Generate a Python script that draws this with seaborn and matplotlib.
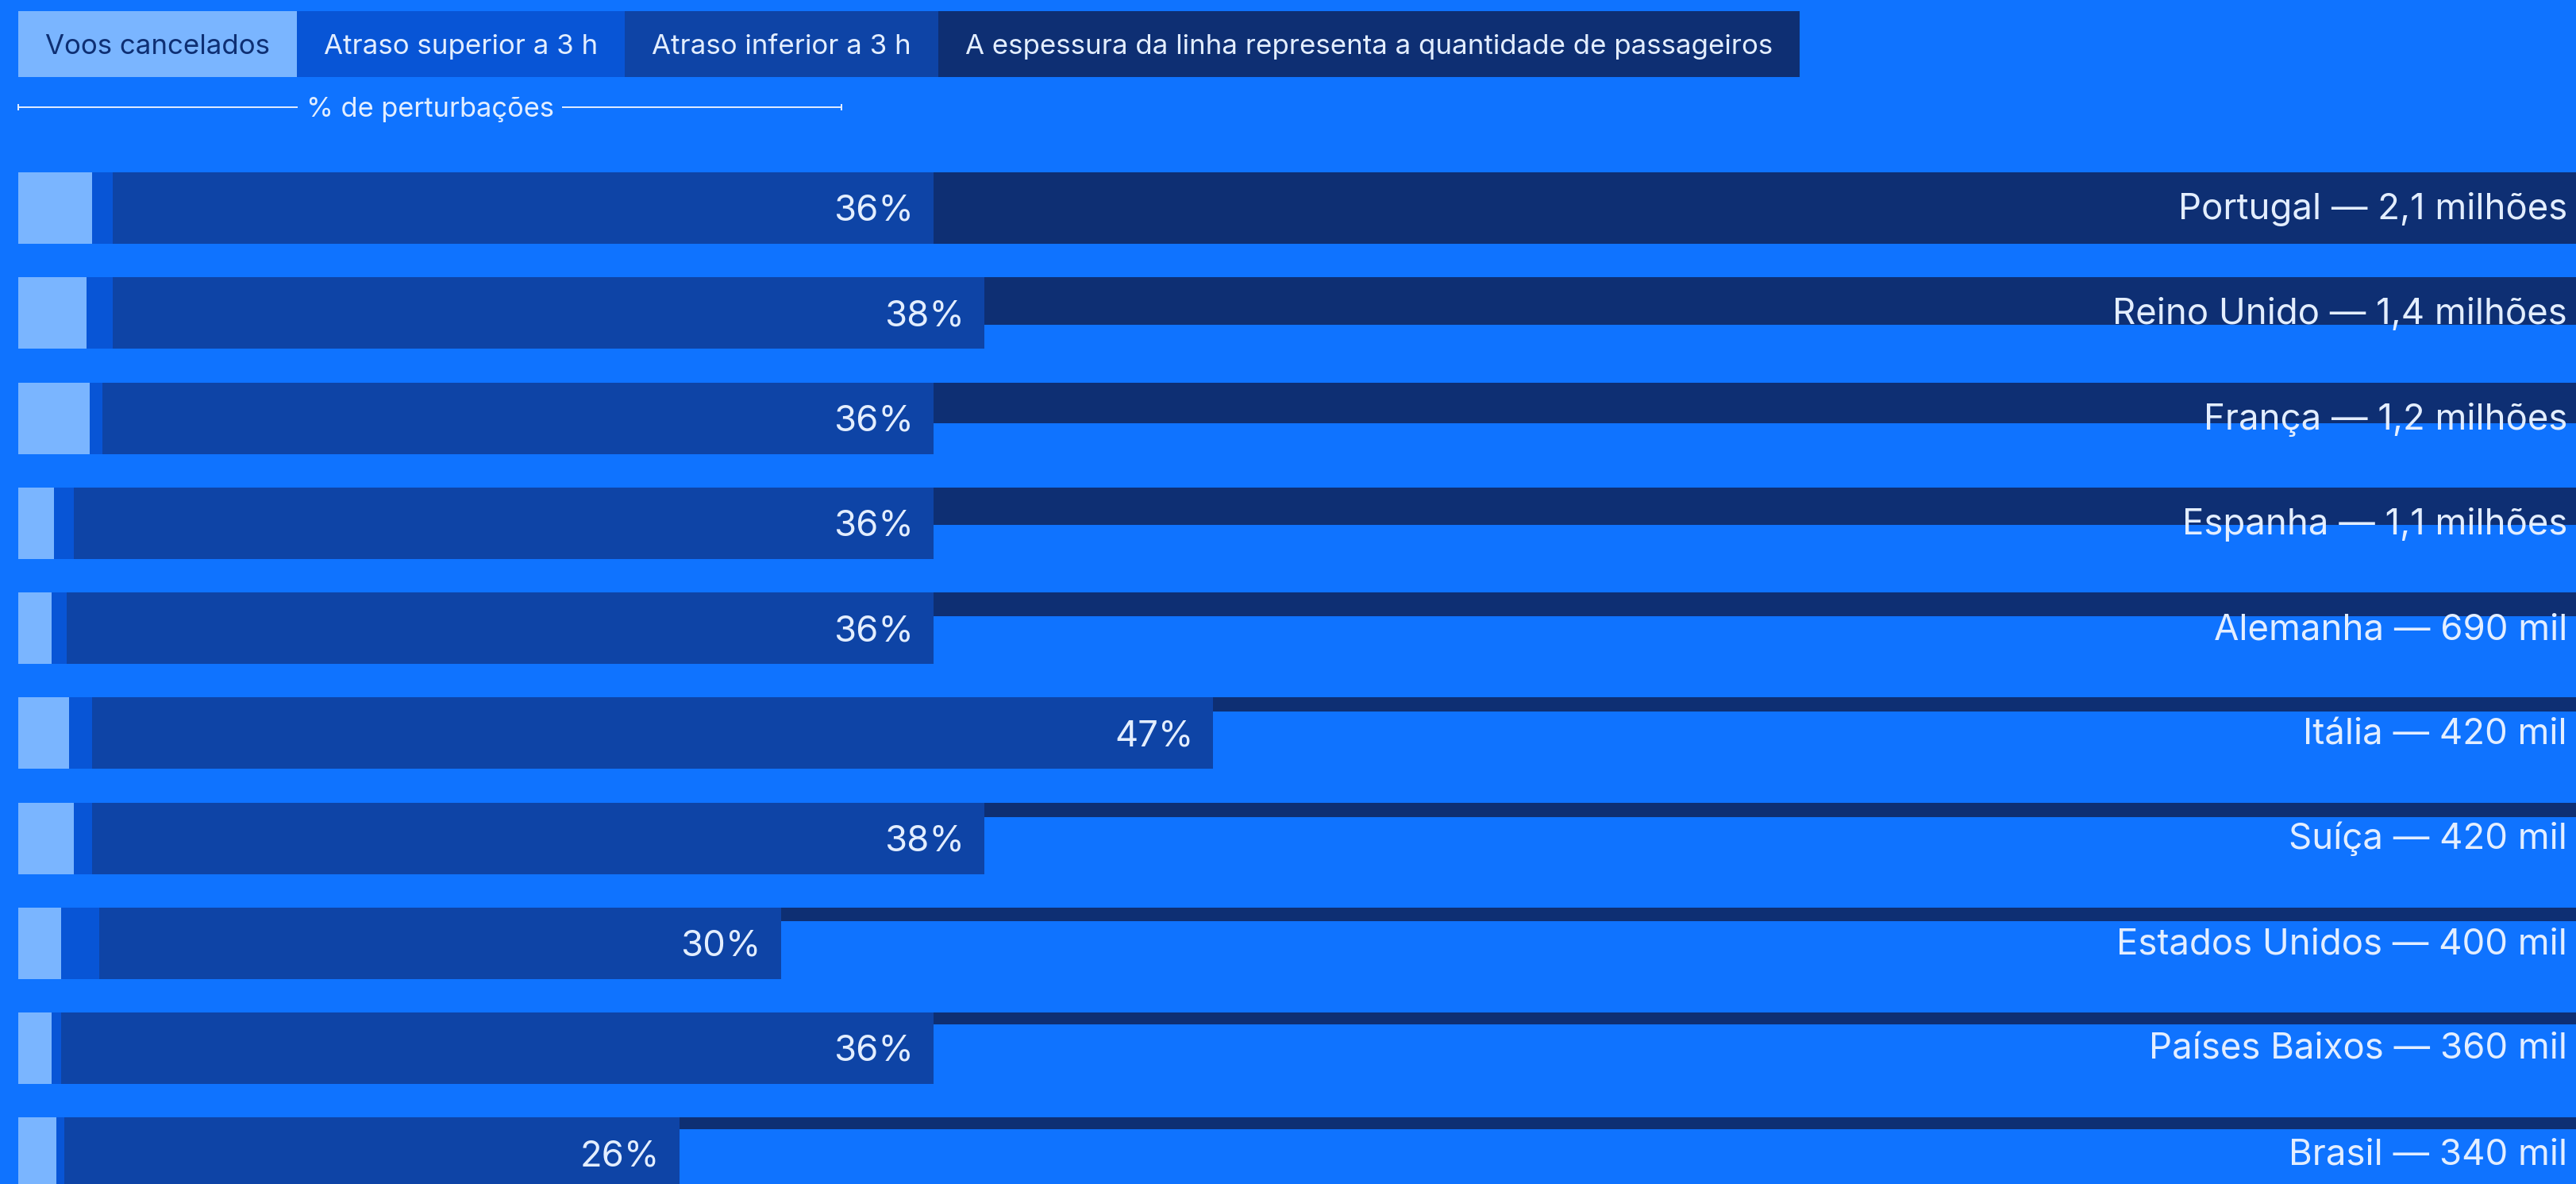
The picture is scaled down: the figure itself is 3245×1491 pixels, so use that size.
import numpy as np
import pandas as pd
import matplotlib
matplotlib.use("Agg")
import matplotlib.pyplot as plt
import seaborn as sns
from matplotlib.patches import Rectangle
from matplotlib.transforms import IdentityTransform, blended_transform_factory

# data
countries = ["Portugal", "Reino Unido", "França", "Espanha", "Alemanha",
             "Itália", "Suíça", "Estados Unidos", "Países Baixos", "Brasil"]
passengers_mi = [2.1, 1.4, 1.2, 1.1, 0.69, 0.42, 0.42, 0.40, 0.36, 0.34]
passenger_labels = ["2,1 milhões", "1,4 milhões", "1,2 milhões", "1,1 milhões", "690 mil",
                    "420 mil", "420 mil", "400 mil", "360 mil", "340 mil"]
total_pct = [36, 38, 36, 36, 36, 47, 38, 30, 36, 26]
cancelled_pct = [2.9, 2.7, 2.8, 1.4, 1.3, 2.0, 2.2, 1.7, 1.3, 1.5]
over3h_pct = [0.8, 1.0, 0.5, 0.8, 0.6, 0.9, 0.7, 1.5, 0.4, 0.3]
legend_labels = ["Voos cancelados", "Atraso superior a 3 h", "Atraso inferior a 3 h",
                 "A espessura da linha representa a quantidade de passageiros"]
axis_title = "% de perturbações"

BG = "#0f73ff"
C_CANC = "#7ab5ff"
C_OVER = "#0855d6"
C_UNDER = "#0e44a6"
C_PASS = "#0e2f73"
TXT = "#e3eeff"
TXT_DARK = "#0e2f73"

sns.set_theme(style="white")
plt.rcParams["font.family"] = ["Inter", "DejaVu Sans"]

df = pd.DataFrame({"country": countries, "total": total_pct,
                   "cancelled": cancelled_pct, "over": over3h_pct,
                   "passengers": passengers_mi})
df["cum_over"] = df["cancelled"] + df["over"]

W, H = 3245, 1491
fig = plt.figure(figsize=(W / 100, H / 100), dpi=100, facecolor=BG)
ax = fig.add_axes([0, 0, 1, 1])
ax.set_facecolor(BG)

px_per_pct = 32.03
left_px = 23
row_px = 132.25
first_center_px = 262
bar_w = 90 / row_px
x0 = -left_px / px_per_pct
x1 = (W - left_px) / px_per_pct

# stacked bars drawn as cumulative layers
for col, c, z in [("total", C_UNDER, 3), ("cum_over", C_OVER, 4), ("cancelled", C_CANC, 5)]:
    sns.barplot(data=df, y="country", x=col, orient="h", color=c, width=bar_w,
                saturation=1, linewidth=0, errorbar=None, ax=ax, zorder=z)

# passenger lines, thickness proportional to passengers, aligned on bar tops
pos = np.arange(len(df))
thick = bar_w * df["passengers"] / df["passengers"].max()
ax.barh(pos - bar_w / 2, [x1 + 1] * len(df), height=thick, left=0, align="edge",
        color=C_PASS, linewidth=0, zorder=2)

ax.set_xlim(x0, x1)
ax.set_ylim((H - first_center_px) / row_px, -first_center_px / row_px)
ax.set_axis_off()

# percent labels inside bar ends
for i, t in enumerate(df["total"]):
    ax.text(t - 25 / px_per_pct, i + 16 / row_px, f"{t}%", ha="right", va="baseline",
            fontsize=32.7, color=TXT, zorder=6)

# country labels on the right
tr = blended_transform_factory(fig.transFigure, ax.transData)
for i, (c, p) in enumerate(zip(countries, passenger_labels)):
    ax.text((W - 11) / W, i + 14 / row_px, f"{c} — {p}", transform=tr, ha="right",
            va="baseline", fontsize=32.8, color=TXT, zorder=6)

# axis bracket
y_line = (135 - first_center_px) / row_px
x_end = (1060 - left_px) / px_per_pct
ax.plot([0, x_end], [y_line, y_line], color=TXT, lw=1.4, marker="|", markersize=6,
        markeredgewidth=1.4, zorder=6, clip_on=False)
ax.text(x_end / 2, (147 - first_center_px) / row_px, axis_title, ha="center", va="baseline",
        fontsize=24.8, color=TXT, zorder=7,
        bbox=dict(boxstyle="square,pad=0.3", facecolor=BG, edgecolor="none"))

# legend boxes along the top
renderer = fig.canvas.get_renderer()
ident = IdentityTransform()
leg_colors = [(C_CANC, TXT_DARK), (C_OVER, TXT), (C_UNDER, TXT), (C_PASS, TXT)]
x = left_px
box_top, box_bot = H - 14, H - 97
pad = 34
for lab, (fc, tc) in zip(legend_labels, leg_colors):
    t = fig.text(x + pad, H - 68, lab, transform=ident, ha="left", va="baseline",
                 fontsize=25.1, color=tc, zorder=3)
    w = t.get_window_extent(renderer).width + 2 * pad
    fig.add_artist(Rectangle((x, box_bot), w, box_top - box_bot, transform=ident,
                             facecolor=fc, edgecolor="none", zorder=2))
    x += w

fig.savefig("out.png", dpi=100, facecolor=BG)
